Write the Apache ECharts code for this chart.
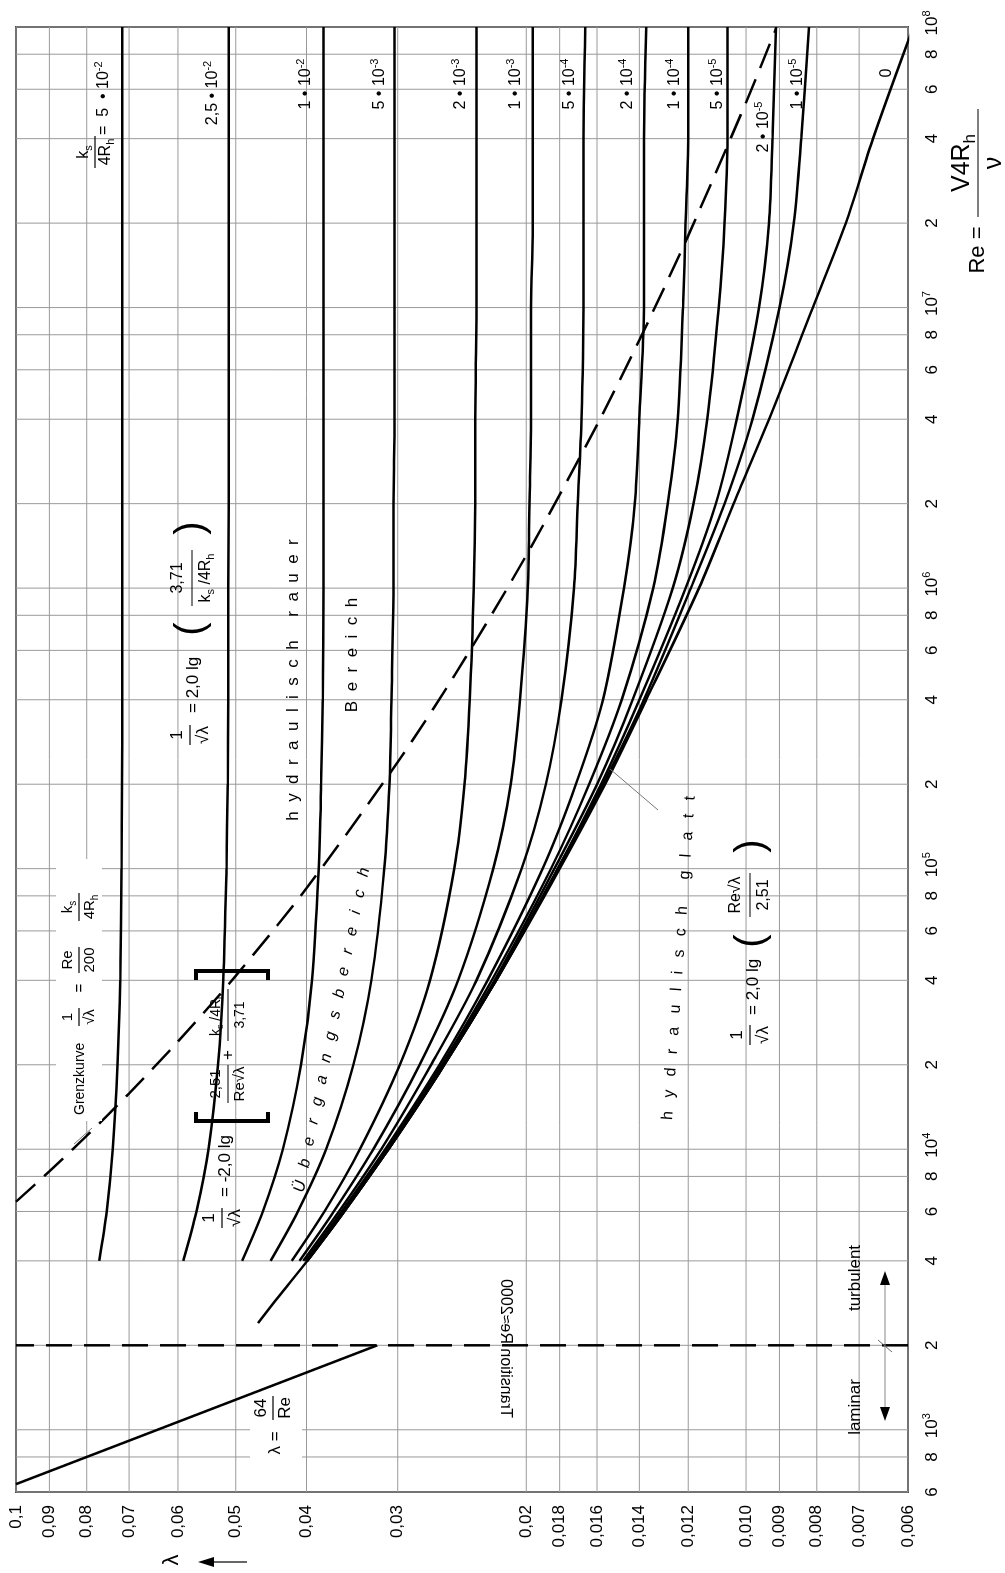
<!DOCTYPE html>
<html><head><meta charset="utf-8">
<script src="https://cdn.jsdelivr.net/npm/echarts/dist/echarts.min.js"></script>
<style>
html,body{margin:0;padding:0;background:#fff;overflow:hidden;width:1005px;height:1573px;}
#wrap{position:absolute;left:0;top:0;width:1573px;height:1005px;transform-origin:0 0;transform:translate(0,1573px) rotate(-90deg);}
</style></head><body><div id="wrap"></div>
<script>
// ---------------- data ----------------
const RE_TICKS = [600,800,1000,2000,4000,6000,8000,1e4,2e4,4e4,6e4,8e4,1e5,2e5,4e5,6e5,8e5,1e6,2e6,4e6,6e6,8e6,1e7,2e7,4e7,6e7,8e7,1e8];
const RE_TICK_LABELS = ['6','8','10{s|3}','2','4','6','8','10{s|4}','2','4','6','8','10{s|5}','2','4','6','8','10{s|6}','2','4','6','8','10{s|7}','2','4','6','8','10{s|8}'];
const LAM_TICKS = [0.1,0.09,0.08,0.07,0.06,0.05,0.04,0.03,0.02,0.018,0.016,0.014,0.012,0.010,0.009,0.008,0.007,0.006];
const LAM_TICK_LABELS = ['0,1','0,09','0,08','0,07','0,06','0,05','0,04','0,03','0,02','0,018','0,016','0,014','0,012','0,010','0,009','0,008','0,007','0,006'];

const RE_CURVE = [4e3,6e3,1e4,2e4,4e4,1e5,2e5,4e5,1e6,2e6,4e6,1e7,2e7,4e7,1e8];
const LAM_5E2   = [0.0769,0.0751,0.0737,0.0726,0.0720,0.0717,0.0716,0.0715,0.0715,0.0715,0.0715,0.0715,0.0715,0.0715,0.0715];
const LAM_25E3  = [0.0590,0.0566,0.0545,0.0529,0.0520,0.0515,0.0513,0.0512,0.0512,0.0511,0.0511,0.0511,0.0511,0.0511,0.0511];
const LAM_1E2   = [0.0490,0.0459,0.0431,0.0407,0.0393,0.0385,0.0382,0.0380,0.0379,0.0379,0.0379,0.0379,0.0379,0.0379,0.0379];
const LAM_5E3   = [0.0448,0.0411,0.0376,0.0345,0.0326,0.0313,0.0308,0.0306,0.0304,0.0304,0.0303,0.0303,0.0303,0.0303,0.0303];
const LAM_2E3   = [0.0419,0.0378,0.0338,0.0298,0.0271,0.0251,0.0243,0.0239,0.0236,0.0235,0.0235,0.0234,0.0234,0.0234,0.0234];
const LAM_1E3   = [0.0409,0.0367,0.0324,0.0280,0.0248,0.0222,0.0210,0.0204,0.0199,0.0198,0.0197,0.0197,0.0196,0.0196,0.0196];
const LAM_5E4   = [0.0404,0.0361,0.0316,0.0270,0.0234,0.0203,0.0188,0.0179,0.0172,0.0170,0.0168,0.0167,0.0167,0.0167,0.0166];
const LAM_2E4   = [0.0401,0.0358,0.0312,0.0263,0.0226,0.0190,0.0171,0.0157,0.0147,0.0142,0.0140,0.0138,0.0138,0.0138,0.0137];
const LAM_1E4   = [0.0400,0.0357,0.0310,0.0261,0.0223,0.0185,0.0164,0.0148,0.0134,0.0128,0.0124,0.0122,0.0121,0.0120,0.0120];
const LAM_5E5   = [0.0400,0.0356,0.0310,0.0260,0.0221,0.0183,0.0160,0.0143,0.0126,0.0118,0.0113,0.0109,0.0107,0.0106,0.0106];
const LAM_2E5   = [0.0399,0.0355,0.0309,0.0259,0.0220,0.0181,0.0158,0.0140,0.0121,0.0110,0.0103,0.0096,0.0093,0.0092,0.0091];
const LAM_1E5   = [0.0399,0.0355,0.0309,0.0259,0.0220,0.0181,0.0157,0.0138,0.0119,0.0107,0.0098,0.0090,0.0086,0.0084,0.0082];

const RE_SMOOTH  = [2400,3000,4000,6000,1e4,2e4,4e4,1e5,2e5,4e5,1e6,2e6,4e6,1e7,2e7,4e7,1e8];
const LAM_SMOOTH = [0.0466,0.0436,0.0399,0.0355,0.0309,0.0259,0.0220,0.0180,0.0156,0.0137,0.0116,0.0104,0.0093,0.0081,0.0073,0.0067,0.0059];

const GRENZ_RE  = [6500,8340,11170,15810,24200,41500,85200,240000,495000,1308000,3823000,7660000,18050000,53900000,98500000];
const GRENZ_LAM = [0.1,0.09,0.08,0.07,0.06,0.05,0.04,0.03,0.025,0.02,0.016,0.014,0.012,0.010,0.0091];

const LAMINAR_RE  = [640,2000];
const LAMINAR_LAM = [0.1,0.032];

const TRANSITION_RE = 2000;

const CURVE_LABELS = ['2,5 • 10{s|-2}','1 • 10{s|-2}','5 • 10{s|-3}','2 • 10{s|-3}','1 • 10{s|-3}','5 • 10{s|-4}','2 • 10{s|-4}','1 • 10{s|-4}','5 • 10{s|-5}','2 • 10{s|-5}','1 • 10{s|-5}','0'];

// ---------------- helpers ----------------
const W = 1573, H = 1005;
const FF = '"Liberation Sans", Arial, Helvetica, sans-serif';
const GRID_COLOR = '#9a9a9a';
function rich(size){
  const s = Math.round(size*0.66);
  return {
    s:{fontFamily:FF, fontSize:s, lineHeight:s, verticalAlign:'top'},
    b:{fontFamily:FF, fontSize:s, lineHeight:s, verticalAlign:'bottom'}
  };
}
function L(px, py){ return [W - py, px]; }
function T(X, Y, text, size, o){
  o = o || {};
  const el = {type:'text', x:X, y:Y, rotation:o.rot||0, z:o.z||60, silent:true,
    style:{text:text, fontFamily:FF, fontSize:size, fontStyle:o.italic?'italic':'normal',
      fontWeight:o.bold?'bold':'normal', fill:o.fill||'#000', align:o.align||'center',
      verticalAlign:o.va||'middle', lineHeight:Math.round(size*1.3), rich:rich(size)}};
  if (o.flipY) el.scaleY = -1;
  return el;
}
function Ln(x1,y1,x2,y2,w,c,z){ return {type:'line', silent:true, z:z||60, shape:{x1:x1,y1:y1,x2:x2,y2:y2}, style:{stroke:c||'#000', lineWidth:w||1}}; }
function Rect(x,y,w,h){ return {type:'rect', silent:true, z:55, shape:{x:x,y:y,width:w,height:h}, style:{fill:'#fff'}}; }
function Frac(X, Y, num, den, size, half, gap){
  gap = gap || size*0.66;
  return [T(X, Y-gap, num, size), Ln(X-half, Y, X+half, Y, 1.2), T(X, Y+gap, den, size)];
}
function Poly(pts, fill){ return {type:'polygon', silent:true, z:60, shape:{points:pts}, style:{fill:fill||'#000'}}; }
function Bracket(X, y1, y2, dir){
  const s = 9*dir;
  return {type:'polyline', silent:true, z:60, shape:{points:[[X+s,y1],[X,y1],[X,y2],[X+s,y2]]}, style:{stroke:'#000', lineWidth:4, fill:null}};
}

// ---------------- chart ----------------
const chart = echarts.init(document.getElementById('wrap'), null, {renderer:'canvas', width:W, height:H});

const curveSets = [LAM_5E2,LAM_25E3,LAM_1E2,LAM_5E3,LAM_2E3,LAM_1E3,LAM_5E4,LAM_2E4,LAM_1E4,LAM_5E5,LAM_2E5,LAM_1E5];
const series = [];

series.push({
  type:'custom', name:'gridRe', z:1, silent:true, clip:false,
  data: RE_TICKS.map(v => [v, 0.05]),
  renderItem:(p, api) => {
    const v = RE_TICKS[p.dataIndex];
    const a = api.coord([v, 0.1]), b = api.coord([v, 0.006]);
    const lbl = RE_TICK_LABELS[p.dataIndex];
    const pow = lbl.indexOf('{') >= 0;
    return {type:'group', children:[
      {type:'line', shape:{x1:a[0],y1:a[1],x2:b[0],y2:b[1]}, style:{stroke:GRID_COLOR, lineWidth:1}},
      {type:'text', x:b[0] + (pow?4:0), y:b[1]+24, style:{text:lbl, fontFamily:FF, fontSize:17, fill:'#000', align:'center', verticalAlign:'middle', lineHeight:22, rich:{s:{fontFamily:FF,fontSize:11,lineHeight:11,verticalAlign:'top'}}}}
    ]};
  }
});
series.push({
  type:'custom', name:'gridLam', z:1, silent:true, clip:false,
  data: LAM_TICKS.map(v => [2000, v]),
  renderItem:(p, api) => {
    const v = LAM_TICKS[p.dataIndex];
    const a = api.coord([600, v]), b = api.coord([1e8, v]);
    return {type:'group', children:[
      {type:'line', shape:{x1:a[0],y1:a[1],x2:b[0],y2:b[1]}, style:{stroke:GRID_COLOR, lineWidth:1}},
      {type:'text', x:a[0]-13, y:a[1], style:{text:LAM_TICK_LABELS[p.dataIndex], fontFamily:FF, fontSize:17, fill:'#000', align:'right', verticalAlign:'middle'}}
    ]};
  }
});

curveSets.forEach((arr, i) => {
  series.push({type:'line', name:'k'+i, data: RE_CURVE.map((re,j)=>[re, arr[j]]), smooth:0.3,
    symbol:'none', z:10, clip:true, lineStyle:{color:'#000', width:2.5}});
});
series.push({type:'line', name:'smooth', data: RE_SMOOTH.map((re,j)=>[re, LAM_SMOOTH[j]]), smooth:0.3,
  symbol:'none', z:10, clip:true, lineStyle:{color:'#000', width:2.5}});
series.push({type:'line', name:'grenz', data: GRENZ_RE.map((re,j)=>[re, GRENZ_LAM[j]]), smooth:0.3,
  symbol:'none', z:11, clip:true, lineStyle:{color:'#000', width:2.5, type:[26,12]}});
series.push({type:'line', name:'laminar', data: LAMINAR_RE.map((re,j)=>[re, LAMINAR_LAM[j]]),
  symbol:'none', z:10, clip:true, lineStyle:{color:'#000', width:2.5}});
series.push({type:'line', name:'transition', data: [[TRANSITION_RE,0.006],[TRANSITION_RE,0.1]],
  symbol:'none', z:10, clip:true, lineStyle:{color:'#000', width:2.5, type:[26,12]}});

// ---------------- annotations (landscape coords) ----------------
const g = [];
const labPos = [[213,93],[306,84],[380,84],[461,84],[516,84],[570,84],[628,84],[675,84],[718,84],[764,127],[798,84],[887,73]];
CURVE_LABELS.forEach((t,i)=>{ const q = L(labPos[i][0], labPos[i][1]); g.push(T(q[0], q[1], t, 16)); });
g.push(...Frac(1421, 95, 'k{b|s}', '4R{b|h}', 16, 16, 11));
g.push(T(1438, 104, '=  5  • 10{s|-2}', 16, {align:'left'}));

// Re axis title
g.push(T(1323, 978, 'Re =', 22));
g.push(...Frac(1410, 978, 'V4R{b|h}', 'ν', 25, 54, 16));
// lambda axis title
g.push(T(13, 172, 'λ', 22));
g.push(Ln(11, 247, 11, 212, 1.2));
g.push(Poly([[11,198],[6,214],[16,214]]));

// laminar formula
g.push(Rect(106, 250, 68, 52));
g.push(T(130, 275, 'λ =', 17));
g.push(...Frac(165, 273, '64', 'Re', 17, 12, 12));

// Grenzkurve formula
g.push(Rect(452, 56, 262, 46));
g.push(T(458, 80, 'Grenzkurve', 14, {align:'left'}));
g.push(...Frac(556, 79, '1', '√λ', 15, 9, 11));
g.push(T(585, 80, '=', 15));
g.push(...Frac(613, 79, 'Re', '200', 15, 13, 11));
g.push(...Frac(666, 79, 'k{b|s}', '4R{b|h}', 15, 14, 11));
g.push(Ln(429, 74, 445, 92, 1, '#777'));

// Colebrook formula
g.push(...Frac(355, 222, '1', '√λ', 17, 10, 13));
g.push(T(376, 225, '= -2,0 lg', 17, {align:'left'}));
g.push(Bracket(452, 196, 268, 1));
g.push(...Frac(489, 228, '2,51', 'Re√λ', 15, 19, 12));
g.push(T(518, 228, '+', 17));
g.push(...Frac(558, 228, 'k{b|s} /4R{b|h}', '3,71', 14, 26, 12));
g.push(Bracket(602, 196, 268, -1));

// rough formula
g.push(...Frac(838, 190, '1', '√λ', 17, 10, 13));
g.push(T(860, 193, '= 2,0 lg', 17, {align:'left'}));
g.push(T(944, 192, '(', 40));
g.push(...Frac(995, 192, '3,71', 'k{b|s} /4R{b|h}', 16, 28, 14));
g.push(T(1045, 192, ')', 40));

// smooth formula
g.push(...Frac(538, 750, '1', '√λ', 17, 10, 13));
g.push(T(558, 753, '= 2,0 lg', 17, {align:'left'}));
g.push(T(632, 752, '(', 40));
g.push(...Frac(678, 750, 'Re√λ', '2,51', 16, 22, 14));
g.push(T(727, 752, ')', 40));

// region texts
g.push(T(893, 293, 'h  y  d  r  a  u  l  i  s  c  h     r  a  u  e  r', 17));
g.push(T(918, 352, 'B  e  r  e  i  c  h', 17));
g.push(T(543, 332, 'Ü   b   e   r   g   a   n   g   s   b   e   r   e   i   c   h', 16, {rot:-0.2, italic:true}));
g.push(T(615, 679, 'h   y   d   r   a   u   l   i   s   c   h      g   l   a   t   t', 16, {rot:-0.07}));
g.push(Ln(804, 610, 763, 658, 1, '#777'));

// transition
g.push(T(155, 505, 'Transition Re≈2000', 16, {align:'left', flipY:true}));
g.push(T(166, 855, 'laminar', 17));
g.push(T(295, 855, 'turbulent', 17));
g.push(Ln(160, 885, 294, 885, 1, '#888'));
g.push(Poly([[152,885],[166,880],[166,890]]));
g.push(Poly([[302,885],[288,880],[288,890]]));
g.push(Ln(221, 892, 233, 878, 1, '#666'));

chart.setOption({
  animation:false,
  grid:{left:81, right:27, top:16, bottom:97, show:true, borderColor:'#4d4d4d', borderWidth:2, backgroundColor:'transparent'},
  xAxis:{type:'log', logBase:10, min:600, max:1e8, axisLine:{show:false}, axisTick:{show:false}, axisLabel:{show:false}, splitLine:{show:false}},
  yAxis:{type:'log', logBase:10, min:0.006, max:0.1, axisLine:{show:false}, axisTick:{show:false}, axisLabel:{show:false}, splitLine:{show:false}},
  series: series,
  graphic:{elements:g}
});
</script></body></html>
